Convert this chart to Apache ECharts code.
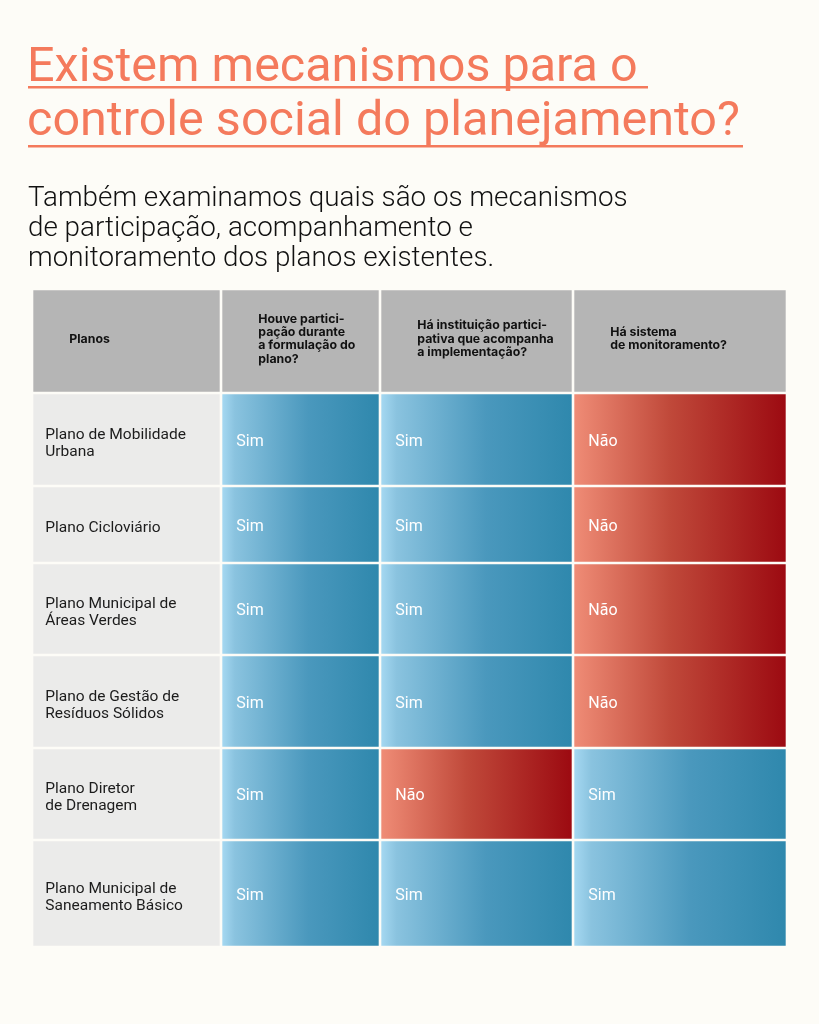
<!DOCTYPE html>
<html>
<head>
<meta charset="utf-8">
<script src="https://cdn.jsdelivr.net/npm/echarts@6/dist/echarts.min.js"></script>
<style>
  html, body { margin: 0; padding: 0; background: #fdfcf7; }
  #main { width: 819px; height: 1024px; }
</style>
</head>
<body>
<div id="main"></div>
<script>
// dados da tabela
var planos = [
  'Plano de Mobilidade\nUrbana',
  'Plano Cicloviário',
  'Plano Municipal de\nÁreas Verdes',
  'Plano de Gestão de\nResíduos Sólidos',
  'Plano Diretor\nde Drenagem',
  'Plano Municipal de\nSaneamento Básico'
];
var perguntas = [
  'Houve partici-\npação durante\na formulação do\nplano?',
  'Há instituição partici-\npativa que acompanha\na implementação?',
  'Há sistema\nde monitoramento?'
];
var participacao  = ['Sim', 'Sim', 'Sim', 'Sim', 'Sim', 'Sim'];
var instituicao   = ['Sim', 'Sim', 'Sim', 'Sim', 'Não', 'Sim'];
var monitoramento = ['Não', 'Não', 'Não', 'Não', 'Sim', 'Sim'];

// layout da grade (largura das colunas / altura das linhas, em px)
var colEdges = [0, 189, 348, 541, 755];
var rowEdges = [0, 104, 197, 274, 366, 459, 551, 658];
var GAP = 1.3;

var respostas = [participacao, instituicao, monitoramento];
var cells = [];
cells.push({ value: [0, 0], kind: 'head', text: 'Planos' });
for (var q = 0; q < perguntas.length; q++) {
  cells.push({ value: [q + 1, 0], kind: 'head', text: perguntas[q] });
}
for (var r = 0; r < planos.length; r++) {
  cells.push({ value: [0, r + 1], kind: 'plano', text: planos[r] });
  for (var q = 0; q < respostas.length; q++) {
    cells.push({ value: [q + 1, r + 1], kind: 'resp', text: respostas[q][r] });
  }
}

var FONT = 'Roboto, "Noto Sans", sans-serif';
var FONT_HEAD = 'Inter, Roboto, sans-serif';

function blueFill() {
  return new echarts.graphic.LinearGradient(0, 0, 1, 0, [
    { offset: 0, color: '#a5d8f1' },
    { offset: 0.08, color: '#8ac3df' },
    { offset: 0.55, color: '#4a98bd' },
    { offset: 1, color: '#2f88ad' }
  ]);
}
function redFill() {
  return new echarts.graphic.LinearGradient(0, 0, 1, 0, [
    { offset: 0, color: '#ef8c76' },
    { offset: 0.45, color: '#c0493a' },
    { offset: 1, color: '#9c0a11' }
  ]);
}

function renderCell(params, api) {
  var c = api.value(0), r = api.value(1);
  var cell = cells[params.dataIndex];
  var p0 = api.coord([colEdges[c], rowEdges[r]]);
  var p1 = api.coord([colEdges[c + 1], rowEdges[r + 1]]);
  var x = p0[0] + GAP, y = p0[1] + GAP;
  var w = p1[0] - p0[0] - GAP * 2, h = p1[1] - p0[1] - GAP * 2;
  var fill, txt;
  if (cell.kind == 'head') {
    fill = '#b5b5b5';
    txt = { text: cell.text, x: x + 36, y: y + h / 2 - 2, fill: '#111',
            fontSize: 12.3, fontWeight: 'bold', fontFamily: FONT_HEAD,
            lineHeight: 13.3, verticalAlign: 'middle' };
  } else if (cell.kind == 'plano') {
    fill = '#ebebea';
    txt = { text: cell.text, x: x + 12, y: y + h / 2 + 4, fill: '#1c1c1c',
            fontSize: 15.5, fontFamily: FONT, lineHeight: 17, verticalAlign: 'middle' };
  } else {
    fill = cell.text == 'Sim' ? blueFill() : redFill();
    txt = { text: cell.text, x: x + 14, y: y + h / 2 + 2, fill: '#ffffff',
            fontSize: 16, fontFamily: FONT, verticalAlign: 'middle' };
  }
  return {
    type: 'group',
    children: [
      { type: 'rect', shape: { x: x, y: y, width: w, height: h }, style: { fill: fill } },
      { type: 'text', style: txt }
    ]
  };
}

var chart = echarts.init(document.getElementById('main'));
chart.setOption({
  backgroundColor: '#fdfcf7',
  animation: false,
  grid: { left: 32, top: 289, width: 755, height: 658 },
  xAxis: { type: 'value', min: 0, max: 755, show: false },
  yAxis: { type: 'value', min: 0, max: 658, inverse: true, show: false },
  graphic: [
    { type: 'text', left: 27, top: 44,
      style: { text: 'Existem mecanismos para o', fill: '#f47a5c', fontSize: 48.5, fontFamily: FONT } },
    { type: 'rect', left: 28, top: 86, shape: { width: 620, height: 2.5 }, style: { fill: '#f47a5c' } },
    { type: 'text', left: 27, top: 98,
      style: { text: 'controle social do planejamento?', fill: '#f47a5c', fontSize: 48.5, fontFamily: FONT } },
    { type: 'rect', left: 28, top: 145, shape: { width: 715, height: 2.5 }, style: { fill: '#f47a5c' } },
    { type: 'text', left: 28, top: 184,
      style: { text: 'Também examinamos quais são os mecanismos\nde participação, acompanhamento e\nmonitoramento dos planos existentes.',
               fill: '#111', fontSize: 27.8, fontWeight: 300, fontFamily: FONT, lineHeight: 30 } }
  ],
  series: [{
    type: 'custom',
    coordinateSystem: 'cartesian2d',
    renderItem: renderCell,
    data: cells
  }]
});
</script>
</body>
</html>
